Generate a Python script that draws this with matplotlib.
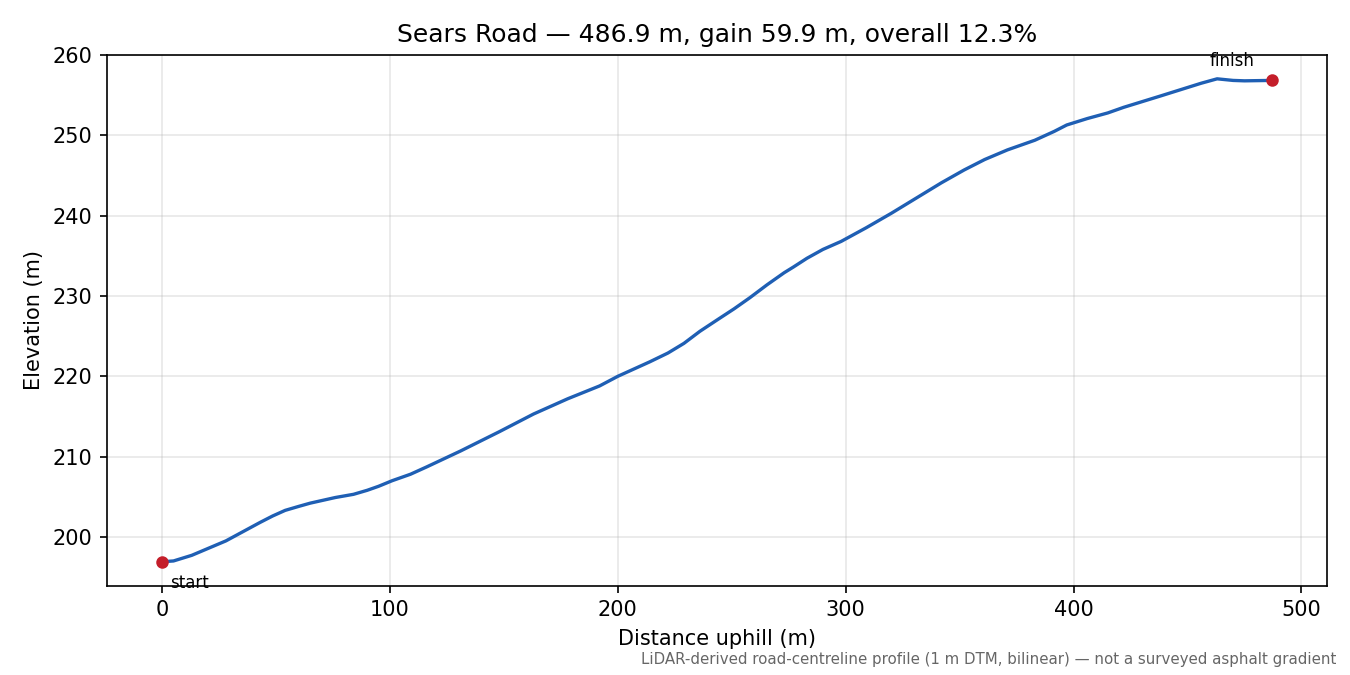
import numpy as np
import matplotlib
matplotlib.use("Agg")
import matplotlib.pyplot as plt

# distance uphill (m) and elevation (m)
distance = [0, 5, 13, 28, 43, 48.5, 54, 60, 65, 76, 84, 90, 95, 101, 109,
            116, 131, 148, 163, 178, 192, 200, 214, 222, 229, 236, 244, 251,
            258, 265.5, 273, 277, 283, 290, 298, 309, 320, 331, 342, 352,
            361, 371, 383, 391.5, 397, 406, 415, 422, 430, 438, 447, 456,
            463, 470, 475, 486.9]
elevation = [196.9, 197.0, 197.7, 199.5, 201.8, 202.6, 203.3, 203.8, 204.2,
             204.9, 205.3, 205.8, 206.3, 207.0, 207.8, 208.7, 210.7, 213.1,
             215.3, 217.2, 218.8, 220.0, 221.8, 222.9, 224.1, 225.6, 227.1,
             228.4, 229.8, 231.4, 232.9, 233.6, 234.7, 235.8, 236.8, 238.5,
             240.3, 242.2, 244.1, 245.7, 247.0, 248.2, 249.4, 250.5, 251.3,
             252.1, 252.8, 253.5, 254.2, 254.9, 255.7, 256.5, 257.05, 256.85,
             256.8, 256.85]

title = "Sears Road \u2014 486.9 m, gain 59.9 m, overall 12.3%"
note = "LiDAR-derived road-centreline profile (1 m DTM, bilinear) \u2014 not a surveyed asphalt gradient"

x = np.array(distance)
y = np.array(elevation)

fig, ax = plt.subplots(figsize=(9, 4.5), dpi=150)
ax.plot(x, y, color="#1f5fb4", linewidth=1.6, solid_joinstyle="round")
ax.plot([x[0], x[-1]], [y[0], y[-1]], "o", color="#c41e2a", markersize=5, zorder=3)
ax.annotate("start", (x[0], y[0]), xytext=(4, -6), textcoords="offset points",
            ha="left", va="top", fontsize=8)
ax.annotate("finish", (x[-1], y[-1]), xytext=(-8, 5), textcoords="offset points",
            ha="right", va="bottom", fontsize=8)

ax.set_title(title)
ax.set_xlabel("Distance uphill (m)")
ax.set_ylabel("Elevation (m)")
ax.grid(True, alpha=0.3)

fig.subplots_adjust(left=0.079, right=0.983, top=0.919, bottom=0.132)
fig.text(0.99, 0.012, note, ha="right", va="bottom", fontsize=7.2, color="#666666")
fig.savefig("out.png")
